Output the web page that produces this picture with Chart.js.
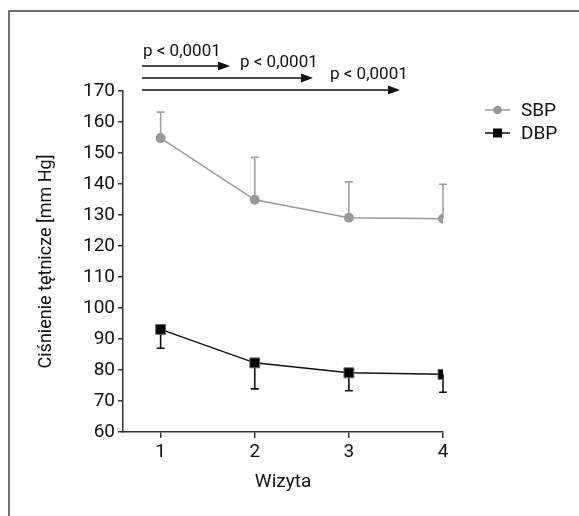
<!DOCTYPE html>
<html>
<head>
<meta charset="utf-8">
<script src="https://cdn.jsdelivr.net/npm/chart.js@4"></script>
<style>
html,body{margin:0;padding:0;background:#fff}
#wrap{position:relative;width:579px;height:516px}
</style>
</head>
<body>
<div id="wrap"><canvas id="main-chart"></canvas></div>
<script>
/* Blood pressure over visits, mean with one-sided SD bars */

var visits=[1,2,3,4];
var sbp=[154.8,134.9,129.1,128.8];
var sbpUpper=[163.2,148.6,140.7,139.9];
var dbp=[93.1,82.3,79.1,78.6];
var dbpLower=[87.0,73.9,73.3,72.8];
var yTicks=[60,70,80,90,100,110,120,130,140,150,160,170];
var pLabels=['p < 0,0001','p < 0,0001','p < 0,0001'];

var GREY='#97989c';
var FONT='Roboto,sans-serif';
var FS=19;

function pts(ys){return visits.map(function(v,i){return{x:v,y:ys[i]}})}

// frame, arrows with p-values, error bars, legend
var decor={
  id:'decor',
  beforeDraw:function(chart){
    var c=chart.ctx;
    c.save();
    c.strokeStyle='#444';c.lineWidth=1.5;
    c.beginPath();c.moveTo(9,516);c.lineTo(9,11);c.lineTo(579,11);c.stroke();
    c.restore();
  },
  beforeDatasetsDraw:function(chart){
    var c=chart.ctx,xs=chart.scales.x,ys=chart.scales.y;
    c.save();
    function bar(vals,ends,col,w){
      c.strokeStyle=col;c.lineWidth=w;
      vals.forEach(function(v,i){
        var x=xs.getPixelForValue(visits[i]);
        var y0=ys.getPixelForValue(v),y1=ys.getPixelForValue(ends[i]);
        c.beginPath();c.moveTo(x,y0);c.lineTo(x,y1);
        c.moveTo(x-4,y1);c.lineTo(x+4,y1);c.stroke();
      });
    }
    bar(sbp,sbpUpper,'#a0a1a4',1.6);
    bar(dbp,dbpLower,'#111',1.6);
    c.restore();
  },
  afterDraw:function(chart){
    var c=chart.ctx;
    c.save();
    // arrows
    var rows=[{y:66,x2:230,tx:143,ty:56},{y:78,x2:313,tx:240,ty:67},{y:90,x2:400,tx:330,ty:79}];
    c.strokeStyle='#111';c.fillStyle='#111';c.lineWidth=1.4;
    c.font='17px '+FONT;c.textBaseline='alphabetic';c.textAlign='left';
    rows.forEach(function(r,i){
      c.beginPath();c.moveTo(142,r.y);c.lineTo(r.x2-8,r.y);c.stroke();
      c.beginPath();c.moveTo(r.x2,r.y);c.lineTo(r.x2-12,r.y-4.5);c.lineTo(r.x2-12,r.y+4.5);c.closePath();c.fill();
      c.fillText(pLabels[i],r.tx,r.ty);
    });
    // legend
    c.font=FS+'px '+FONT;
    var items=[{ds:chart.data.datasets[0],y:110},{ds:chart.data.datasets[1],y:133}];
    items.forEach(function(it){
      var d=it.ds;
      c.strokeStyle=d.borderColor;c.lineWidth=1.5;
      c.beginPath();c.moveTo(485,it.y);c.lineTo(510,it.y);c.stroke();
      c.fillStyle=d.pointBackgroundColor;
      if(d.pointStyle==='rect'){c.fillRect(493,it.y-4.5,9,9)}
      else{c.beginPath();c.arc(497.5,it.y,4.3,0,Math.PI*2);c.fill()}
      c.fillStyle='#111';c.textBaseline='middle';
      c.fillText(d.label,521,it.y+1);
    });
    c.restore();
  }
};

var ctx=document.getElementById('main-chart').getContext('2d');
var mainChart=new Chart(ctx,{
  type:'line',
  data:{
    datasets:[
      {label:'SBP',data:pts(sbp),borderColor:GREY,backgroundColor:GREY,borderWidth:1.4,
        pointStyle:'circle',pointRadius:5,pointBackgroundColor:GREY,pointBorderColor:GREY,pointBorderWidth:0},
      {label:'DBP',data:pts(dbp),borderColor:'#111',backgroundColor:'#000',borderWidth:1.5,
        pointStyle:'rect',pointRadius:7,pointBackgroundColor:'#000',pointBorderColor:'#666',pointBorderWidth:1}
    ]
  },
  options:{
    responsive:true,
    maintainAspectRatio:false,
    animation:false,
    layout:{padding:{left:29,right:136,top:91,bottom:0}},
    plugins:{legend:{display:false},tooltip:{enabled:false}},
    scales:{
      x:{
        type:'linear',min:0.6,max:4,
        afterBuildTicks:function(s){s.ticks=visits.map(function(v){return{value:v}})},
        afterFit:function(s){s.height=84},
        border:{display:true,color:'#333',width:1.5},
        grid:{display:true,drawOnChartArea:false,drawTicks:true,tickLength:6,color:'#333',lineWidth:1.5},
        ticks:{color:'#111',font:{family:FONT,size:FS},padding:3,maxRotation:0},
        title:{display:true,text:'Wizyta',color:'#111',font:{family:FONT,size:FS},padding:{top:0,bottom:22}}
      },
      y:{
        min:60,max:170,
        afterBuildTicks:function(s){s.ticks=yTicks.map(function(v){return{value:v}})},
        afterFit:function(s){s.width=123-29},
        border:{display:true,color:'#333',width:1.5},
        grid:{display:true,drawOnChartArea:false,drawTicks:true,tickLength:5,color:'#333',lineWidth:1.5},
        ticks:{color:'#111',font:{family:FONT,size:FS},padding:3},
        title:{display:true,text:'Ciśnienie tętnicze [mm Hg]',color:'#111',font:{family:FONT,size:18},padding:{top:7,bottom:0}}
      }
    }
  },
  plugins:[decor]
});
</script>
</body>
</html>
